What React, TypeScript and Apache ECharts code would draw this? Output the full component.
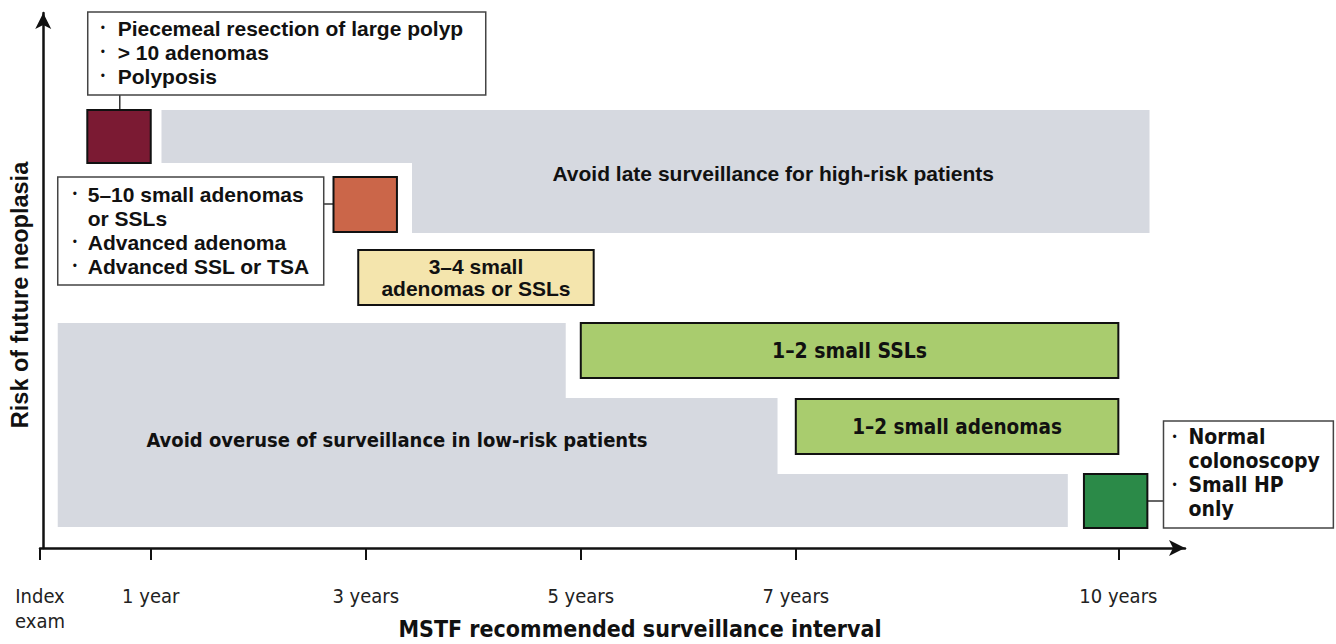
import React, { useEffect, useRef } from "react";
import * as echarts from "echarts";

// ---- Data (x: years after index exam, y: relative risk of future neoplasia) ----
const X_MIN = -0.03;
const X_MAX = 10.62;
const Y_MAX = 133.75;

const tickValues = [X_MIN, 1, 3, 5, 7, 10];
const tickLabels = ["Index\nexam", "1 year", "3 years", "5 years", "7 years", "10 years"];

// Grey "avoid" regions (polygons in data units)
const highRiskBand = [
  [1.1, 109.5], [10.29, 109.5], [10.29, 78.75], [3.43, 78.75], [3.43, 96.25], [1.1, 96.25],
];
const lowRiskBand = [
  [0.135, 56.25], [4.86, 56.25], [4.86, 37.5], [6.83, 37.5], [6.83, 18.5], [9.53, 18.5], [9.53, 5.25], [0.135, 5.25],
];
const bandLabels = ["Avoid late surveillance for high-risk patients", "Avoid overuse of surveillance in low-risk patients"];
const bandLabelX = [6.79, 3.29];
const bandLabelY = [93.75, 27];

// Recommended interval blocks
const blockStart = [0.41, 2.7, 2.93, 5.0, 7.0, 9.68];
const blockEnd = [1.0, 3.29, 5.12, 10.0, 10.0, 10.27];
const blockLow = [96.25, 79, 60.75, 42.5, 23.5, 5];
const blockHigh = [109.5, 92.75, 74.5, 56.25, 37.25, 18.5];
const blockLabels = ["", "", "3–4 small\nadenomas or SSLs", "1–2 small SSLs", "1–2 small adenomas", ""];

// Call-out notes
const noteStart = [0.414, 0.135, 10.42];
const noteEnd = [4.116, 2.609, 12.0];
const noteLow = [113.25, 65.75, 5];
const noteHigh = [134, 92.75, 31.75];
const noteItems = [
  [["Piecemeal resection of large polyp"], ["> 10 adenomas"], ["Polyposis"]],
  [["5–10 small adenomas", "or SSLs"], ["Advanced adenoma"], ["Advanced SSL or TSA"]],
  [["Normal", "colonoscopy"], ["Small HP", "only"]],
];

// Connectors between notes and blocks [x0, y0, x1, y1]
const connectors = [
  [0.712, 113.25, 0.712, 109.5],
  [2.609, 86, 2.7, 86],
  [10.27, 11.75, 10.42, 11.75],
];

// ---- Styles ----
const FONT = "'Liberation Sans', Arial, Helvetica, sans-serif";
const NARROW = "'DejaVu Sans Condensed', 'Liberation Sans Narrow', sans-serif";
const blockColors = ["#7b1a33", "#cb6649", "#f4e5ad", "#a9cc6e", "#a9cc6e", "#2b8a48"];
const blockFonts = [FONT, FONT, FONT, NARROW, NARROW, NARROW];
const blockFontSize = [21, 21, 21, 21, 20.5, 21];
const bandFonts = [FONT, NARROW];
const bandFontSize = [21, 20];
const noteFonts = [FONT, FONT, NARROW];
const noteFontSize = [21, 21, 21];
const noteBulletDx = [15, 17, 11];
const noteTextDx = [30, 30, 25];
const noteFirstDy = [16, 17, 16];

export default function App() {
  const ref = useRef<HTMLDivElement>(null);

  useEffect(() => {
    if (!ref.current) return;
    const chart = echarts.init(ref.current, null, { renderer: "svg" });

    const option: any = {
      animation: false,
      backgroundColor: "#ffffff",
      grid: { left: 40, top: 13, width: 1145, height: 535, outerBoundsMode: "none", containLabel: false },
      xAxis: {
        type: "value",
        min: X_MIN,
        max: X_MAX,
        name: "MSTF recommended surveillance interval",
        nameLocation: "middle",
        nameGap: 69,
        nameMoveOverlap: false,
        nameTextStyle: {
          fontFamily: NARROW, fontSize: 23, fontWeight: "bold", color: "#111",
          padding: [0, 0, 0, 55],
        },
        axisLine: {
          show: true,
          symbol: ["none", "arrow"],
          symbolSize: [12, 16],
          lineStyle: { color: "#111", width: 2.5 },
        },
        axisTick: {
          show: true,
          customValues: tickValues,
          length: 12,
          lineStyle: { color: "#111", width: 2 },
        },
        axisLabel: {
          customValues: tickValues,
          formatter: (v: number) => {
            const i = tickValues.findIndex((t) => Math.abs(t - v) < 1e-6);
            return i >= 0 ? tickLabels[i] : "";
          },
          margin: 35,
          fontFamily: NARROW,
          fontSize: 20,
          lineHeight: 25,
          color: "#222",
          verticalAlign: "top",
        },
        splitLine: { show: false },
      },
      yAxis: {
        type: "value",
        min: 0,
        max: Y_MAX,
        name: "Risk of future neoplasia",
        nameLocation: "middle",
        nameGap: 8,
        nameRotate: 90,
        nameMoveOverlap: false,
        nameTextStyle: {
          fontFamily: FONT, fontSize: 23.5, fontWeight: "bold", color: "#111",
          padding: [0, 29, 0, 0],
        },
        axisLine: {
          show: true,
          symbol: ["none", "arrow"],
          symbolSize: [12, 16],
          lineStyle: { color: "#111", width: 2.5 },
        },
        axisTick: { show: false },
        axisLabel: { show: false },
        splitLine: { show: false },
      },
      series: [
        {
          type: "custom",
          name: "bands",
          clip: false,
          z: 1,
          data: bandLabels.map((_, i) => [bandLabelX[i], bandLabelY[i]]),
          renderItem: (params: any, api: any) => {
            const i = params.dataIndex;
            const pts = (i === 0 ? highRiskBand : lowRiskBand).map((p) => api.coord(p));
            const c = api.coord([api.value(0), api.value(1)]);
            return {
              type: "group",
              children: [
                { type: "polygon", shape: { points: pts }, style: { fill: "#d6d9e0" } },
                {
                  type: "text",
                  style: {
                    text: bandLabels[i], x: c[0], y: c[1], align: "center", verticalAlign: "middle",
                    fontFamily: bandFonts[i], fontSize: bandFontSize[i], fontWeight: "bold", fill: "#111",
                  },
                },
              ],
            };
          },
        },
        {
          type: "custom",
          name: "connectors",
          clip: false,
          z: 2,
          data: connectors,
          renderItem: (params: any, api: any) => {
            const a = api.coord([api.value(0), api.value(1)]);
            const b = api.coord([api.value(2), api.value(3)]);
            return {
              type: "line",
              shape: { x1: a[0], y1: a[1], x2: b[0], y2: b[1] },
              style: { stroke: "#333", lineWidth: 1.5 },
            };
          },
        },
        {
          type: "custom",
          name: "blocks",
          clip: false,
          z: 3,
          data: blockStart.map((s, i) => [s, blockLow[i], blockEnd[i], blockHigh[i]]),
          renderItem: (params: any, api: any) => {
            const i = params.dataIndex;
            const p0 = api.coord([api.value(0), api.value(3)]);
            const p1 = api.coord([api.value(2), api.value(1)]);
            const children: any[] = [
              {
                type: "rect",
                shape: { x: p0[0], y: p0[1], width: p1[0] - p0[0], height: p1[1] - p0[1] },
                style: { fill: blockColors[i], stroke: "#111", lineWidth: 2 },
              },
            ];
            if (blockLabels[i]) {
              children.push({
                type: "text",
                style: {
                  text: blockLabels[i], x: (p0[0] + p1[0]) / 2, y: (p0[1] + p1[1]) / 2,
                  align: "center", verticalAlign: "middle", lineHeight: 22,
                  fontFamily: blockFonts[i], fontSize: blockFontSize[i], fontWeight: "bold", fill: "#111",
                },
              });
            }
            return { type: "group", children };
          },
        },
        {
          type: "custom",
          name: "notes",
          clip: false,
          z: 4,
          data: noteStart.map((s, i) => [s, noteLow[i], noteEnd[i], noteHigh[i]]),
          renderItem: (params: any, api: any) => {
            const i = params.dataIndex;
            const p0 = api.coord([api.value(0), api.value(3)]);
            const p1 = api.coord([api.value(2), api.value(1)]);
            const children: any[] = [
              {
                type: "rect",
                shape: { x: p0[0], y: p0[1], width: p1[0] - p0[0], height: p1[1] - p0[1] },
                style: { fill: "#ffffff", stroke: "#444", lineWidth: 1.5 },
              },
            ];
            let y = p0[1] + noteFirstDy[i];
            noteItems[i].forEach((item) => {
              item.forEach((line, j) => {
                if (j === 0) {
                  children.push({
                    type: "text",
                    style: {
                      text: "•", x: p0[0] + noteBulletDx[i], y, align: "center", verticalAlign: "middle",
                      fontFamily: FONT, fontSize: 12, fill: "#111",
                    },
                  });
                }
                children.push({
                  type: "text",
                  style: {
                    text: line, x: p0[0] + noteTextDx[i], y, align: "left", verticalAlign: "middle",
                    fontFamily: noteFonts[i], fontSize: noteFontSize[i], fontWeight: "bold", fill: "#111",
                  },
                });
                y += 24;
              });
            });
            return { type: "group", children };
          },
        },
      ],
    };

    chart.setOption(option);
    return () => chart.dispose();
  }, []);

  return (
    <div
      ref={ref}
      style={{ position: "fixed", left: 0, top: 0, width: 1336, height: 644, background: "#fff" }}
    />
  );
}
